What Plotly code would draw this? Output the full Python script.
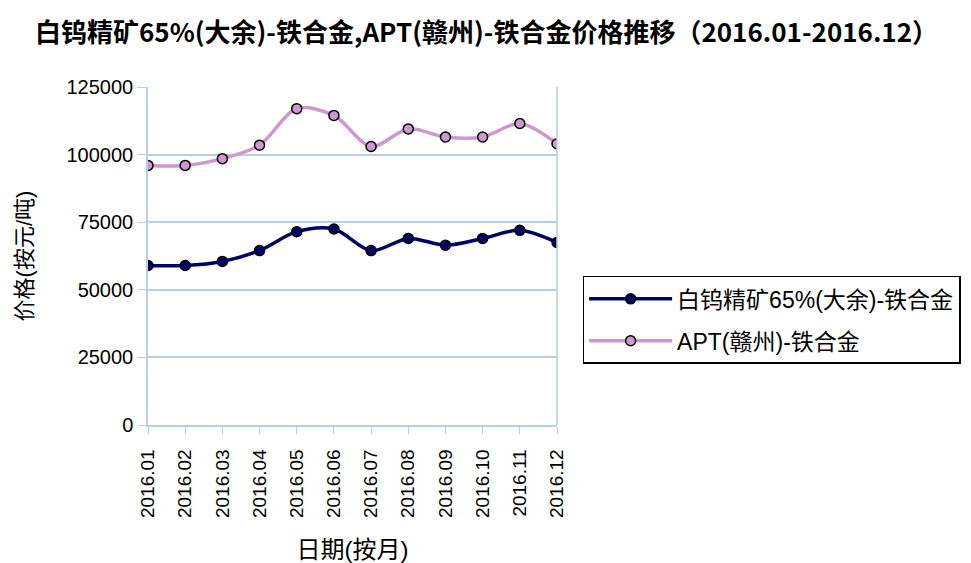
import plotly.graph_objects as go

months = ["2016.01", "2016.02", "2016.03", "2016.04", "2016.05", "2016.06",
          "2016.07", "2016.08", "2016.09", "2016.10", "2016.11", "2016.12"]
ore_65 = [59000, 59000, 60500, 64500, 71500, 72500, 64500, 69000, 66500, 69000, 72000, 67500]
apt = [96000, 96000, 98500, 103500, 117000, 114500, 103000, 109500, 106500, 106500, 111500, 104000]
y_ticks = [0, 25000, 50000, 75000, 100000, 125000]

name1 = "白钨精矿65%(大余)-铁合金"
name2 = "APT(赣州)-铁合金"

grid = "#b9cde5"
font_fam = "Liberation Sans, Arial, Noto Sans CJK SC"

fig = go.Figure()
fig.add_trace(go.Scatter(
    x=months, y=ore_65, name=name1, mode="lines+markers", legendgroup="g1",
    line=dict(color="#000066", width=3.5, shape="spline", smoothing=0.9),
    marker=dict(symbol="circle", size=10, color="#000066", line=dict(color="#000000", width=1.5)),
))
fig.add_trace(go.Scatter(
    x=months, y=apt, name=name2, mode="lines+markers", legendgroup="g2",
    line=dict(color="#cc99cc", width=3.5, shape="spline", smoothing=0.9),
    marker=dict(symbol="circle", size=10, color="#cc99cc", line=dict(color="#000000", width=1.5)),
))

fig.update_layout(
    width=971, height=563,
    paper_bgcolor="white", plot_bgcolor="white",
    margin=dict(l=148, r=414, t=87, b=138),
    font=dict(family=font_fam, size=20, color="#000000"),
    title=dict(
        text="<b>白钨精矿65%(大余)-铁合金,APT(赣州)-铁合金价格推移（2016.01-2016.12）</b>",
        x=0.036, xanchor="left", y=0.942, yanchor="middle",
        font=dict(family="Noto Sans CJK SC, Liberation Sans", size=26, color="#000000"),
    ),
    xaxis=dict(
        type="category", categoryorder="array", categoryarray=months,
        range=[0, 11], tickangle=-90, automargin=False,
        showgrid=False, showline=True, linecolor=grid, linewidth=1.5,
        mirror=False, ticks="outside", ticklen=7, tickcolor=grid,
        ticklabelstandoff=8,
        tickfont=dict(size=19, family=font_fam, color="#000000"),
        title=dict(text="日期(按月)", font=dict(size=24, family=font_fam), standoff=24),
    ),
    yaxis=dict(
        range=[0, 125000], tickvals=y_ticks, ticktext=[str(v) for v in y_ticks],
        automargin=False,
        showgrid=True, gridcolor=grid, gridwidth=1.5,
        showline=True, linecolor=grid, linewidth=1.5,
        ticks="outside", ticklen=9, tickcolor=grid,
        tickfont=dict(size=20, family=font_fam, color="#000000"),
        title=dict(text="价格(按元/吨)", font=dict(size=22, family=font_fam), standoff=28),
        zeroline=False,
    ),
    legend=dict(
        xref="container", yref="container", x=0.6, y=0.51,
        xanchor="left", yanchor="top",
        bordercolor="#000000", borderwidth=1.5, bgcolor="white",
        font=dict(size=23, family=font_fam, color="#000000"),
        itemwidth=83, traceorder="grouped", tracegroupgap=9,
    ),
    showlegend=True,
)

# right border of plot area
fig.add_shape(type="line", xref="paper", yref="paper", x0=1, x1=1, y0=0, y1=1,
              line=dict(color=grid, width=1.5))

fig.write_html("out.html", config={"displayModeBar": False},
               post_script="document.body.style.margin='0px';")
